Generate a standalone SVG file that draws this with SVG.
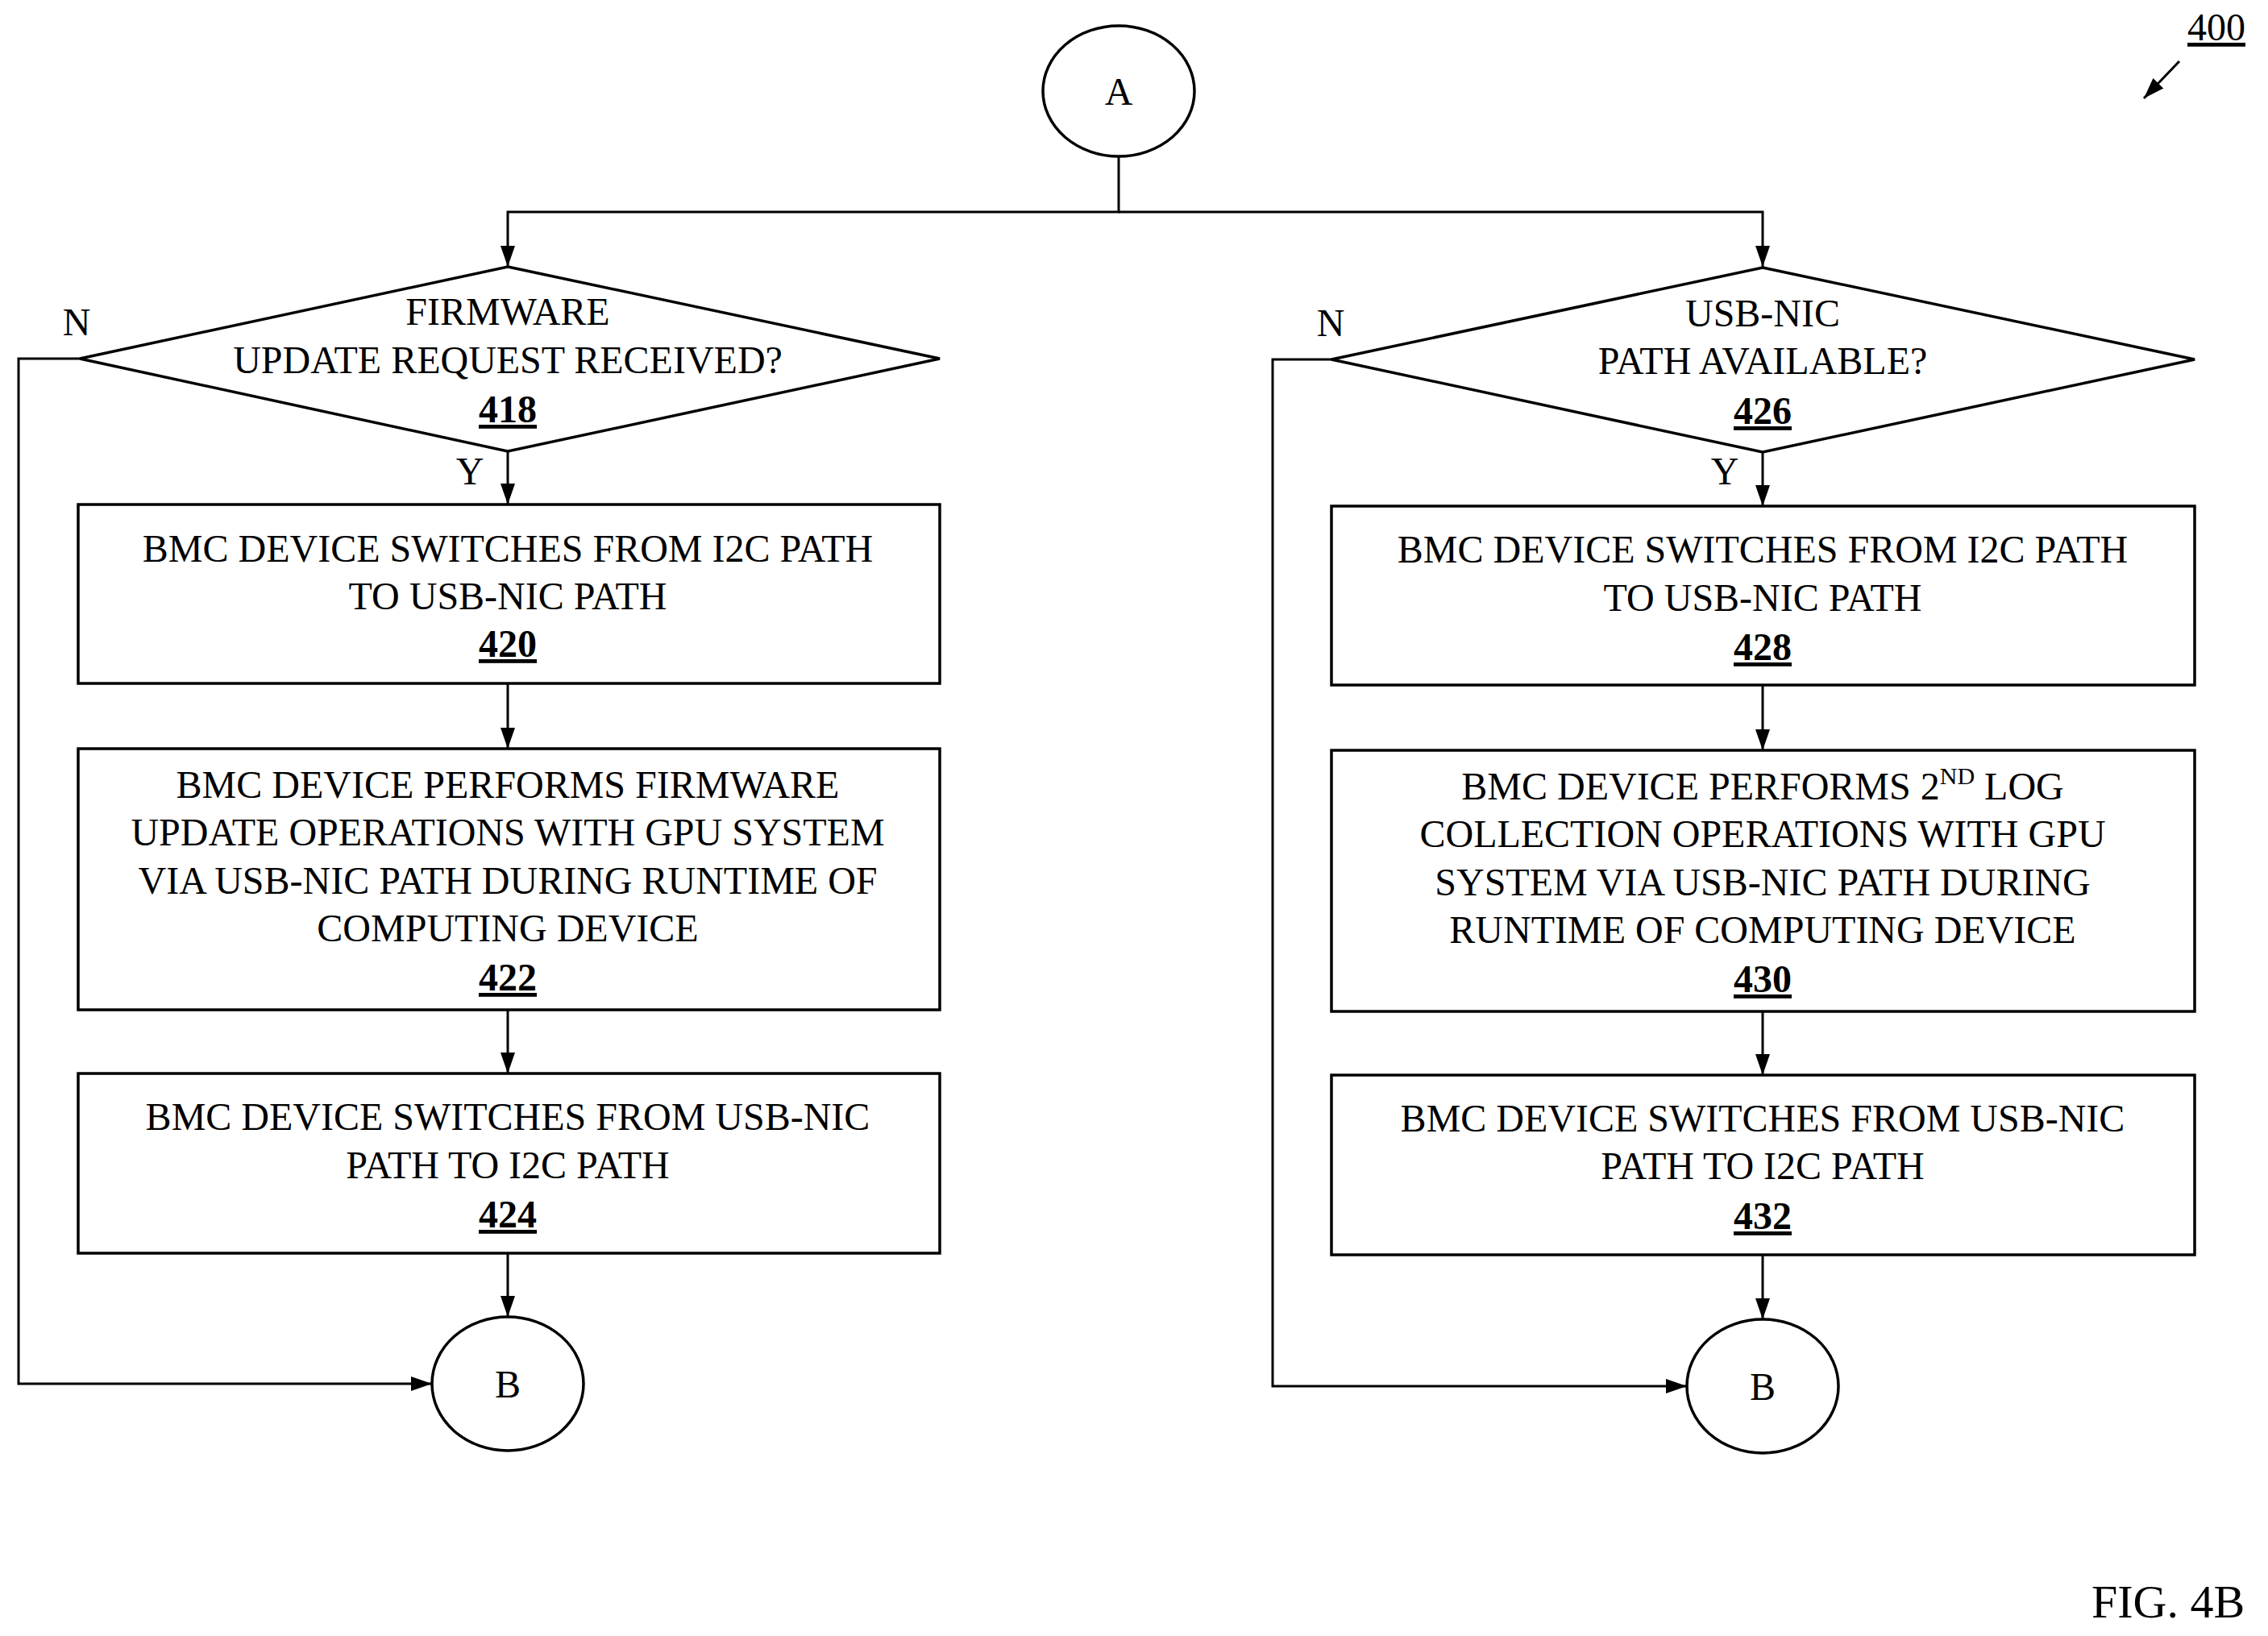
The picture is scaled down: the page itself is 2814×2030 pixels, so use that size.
<svg xmlns="http://www.w3.org/2000/svg" width="2814" height="2030" viewBox="0 0 2814 2030">
<style>
.s{fill:#fff;stroke:#000;stroke-width:3.5}
.c{fill:none;stroke:#000;stroke-width:3}
text{font-family:"Liberation Serif","Times New Roman",serif;font-size:48px;fill:#000}
.m{text-anchor:middle}
.b{font-weight:bold;text-decoration:underline}
</style>
<defs>
<marker id="a" markerWidth="26" markerHeight="26" refX="26" refY="13" orient="auto" markerUnits="userSpaceOnUse" viewBox="0 0 26 26"><path d="M0,4 L26,13 L0,22 Z" fill="#000"/></marker></defs>
<g id="connectors">
<path class="c" d="M1388,194 V263 H630 V331" marker-end="url(#a)"/>
<path class="c" d="M1388,263 H2187 V331" marker-end="url(#a)"/>
<path class="c" d="M630,560 V626" marker-end="url(#a)"/>
<path class="c" d="M630,848 V929" marker-end="url(#a)"/>
<path class="c" d="M630,1253 V1332" marker-end="url(#a)"/>
<path class="c" d="M630,1555 V1634" marker-end="url(#a)"/>
<path class="c" d="M99,445 H23 V1717 H536" marker-end="url(#a)"/>
<path class="c" d="M2187,561 V628" marker-end="url(#a)"/>
<path class="c" d="M2187,850 V931" marker-end="url(#a)"/>
<path class="c" d="M2187,1255 V1334" marker-end="url(#a)"/>
<path class="c" d="M2187,1557 V1637" marker-end="url(#a)"/>
<path class="c" d="M1652,446 H1579 V1720 H2093" marker-end="url(#a)"/>
<path class="c" d="M2704,76 L2660,122" marker-end="url(#a)"/>
<text x="95" y="416" class="m">N</text>
<text x="1651" y="417" class="m">N</text>
<text x="583" y="601" class="m">Y</text>
<text x="2140" y="601" class="m">Y</text>
</g>
<g id="A"><ellipse class="s" cx="1388" cy="113" rx="94" ry="81"/><text x="1388" y="130" class="m">A</text></g>
<g id="n418"><polygon class="s" points="630,331 1166,445 630,560 99,445"/>
<text class="m" x="630" y="403">FIRMWARE</text><text class="m" x="630" y="463">UPDATE REQUEST RECEIVED?</text><text class="m b" x="630" y="524">418</text></g>
<g id="n420"><rect class="s" x="97" y="626" width="1069" height="222"/>
<text class="m" x="630" y="697">BMC DEVICE SWITCHES FROM I2C PATH</text><text class="m" x="630" y="756">TO USB-NIC PATH</text><text class="m b" x="630" y="815">420</text></g>
<g id="n422"><rect class="s" x="97" y="929" width="1069" height="324"/>
<text class="m" x="630" y="990">BMC DEVICE PERFORMS FIRMWARE</text><text class="m" x="630" y="1049">UPDATE OPERATIONS WITH GPU SYSTEM</text><text class="m" x="630" y="1109">VIA USB-NIC PATH DURING RUNTIME OF</text><text class="m" x="630" y="1168">COMPUTING DEVICE</text><text class="m b" x="630" y="1229">422</text></g>
<g id="n424"><rect class="s" x="97" y="1332" width="1069" height="223"/>
<text class="m" x="630" y="1402">BMC DEVICE SWITCHES FROM USB-NIC</text><text class="m" x="630" y="1462">PATH TO I2C PATH</text><text class="m b" x="630" y="1523">424</text></g>
<g id="B1"><ellipse class="s" cx="630" cy="1717" rx="94" ry="83"/><text x="630" y="1734" class="m">B</text></g>
<g id="n426"><polygon class="s" points="2187,332 2723,446 2187,561 1652,446"/>
<text class="m" x="2187" y="405">USB-NIC</text><text class="m" x="2187" y="464">PATH AVAILABLE?</text><text class="m b" x="2187" y="526">426</text></g>
<g id="n428"><rect class="s" x="1652" y="628" width="1071" height="222"/>
<text class="m" x="2187" y="698">BMC DEVICE SWITCHES FROM I2C PATH</text><text class="m" x="2187" y="758">TO USB-NIC PATH</text><text class="m b" x="2187" y="819">428</text></g>
<g id="n430"><rect class="s" x="1652" y="931" width="1071" height="324"/>
<text class="m" x="2187" y="992">BMC DEVICE PERFORMS 2<tspan font-size="30" style="font-size:30px" dy="-19">ND</tspan><tspan dy="19"> LOG</tspan></text><text class="m" x="2187" y="1051">COLLECTION OPERATIONS WITH GPU</text><text class="m" x="2187" y="1111">SYSTEM VIA USB-NIC PATH DURING</text><text class="m" x="2187" y="1170">RUNTIME OF COMPUTING DEVICE</text><text class="m b" x="2187" y="1231">430</text></g>
<g id="n432"><rect class="s" x="1652" y="1334" width="1071" height="223"/>
<text class="m" x="2187" y="1404">BMC DEVICE SWITCHES FROM USB-NIC</text><text class="m" x="2187" y="1463">PATH TO I2C PATH</text><text class="m b" x="2187" y="1525">432</text></g>
<g id="B2"><ellipse class="s" cx="2187" cy="1720" rx="94" ry="83"/><text x="2187" y="1737" class="m">B</text></g>
<text x="2750" y="50" class="m" style="text-decoration:underline">400</text>
<text x="2690" y="2007" class="m" style="font-size:58px">FIG. 4B</text>
</svg>
